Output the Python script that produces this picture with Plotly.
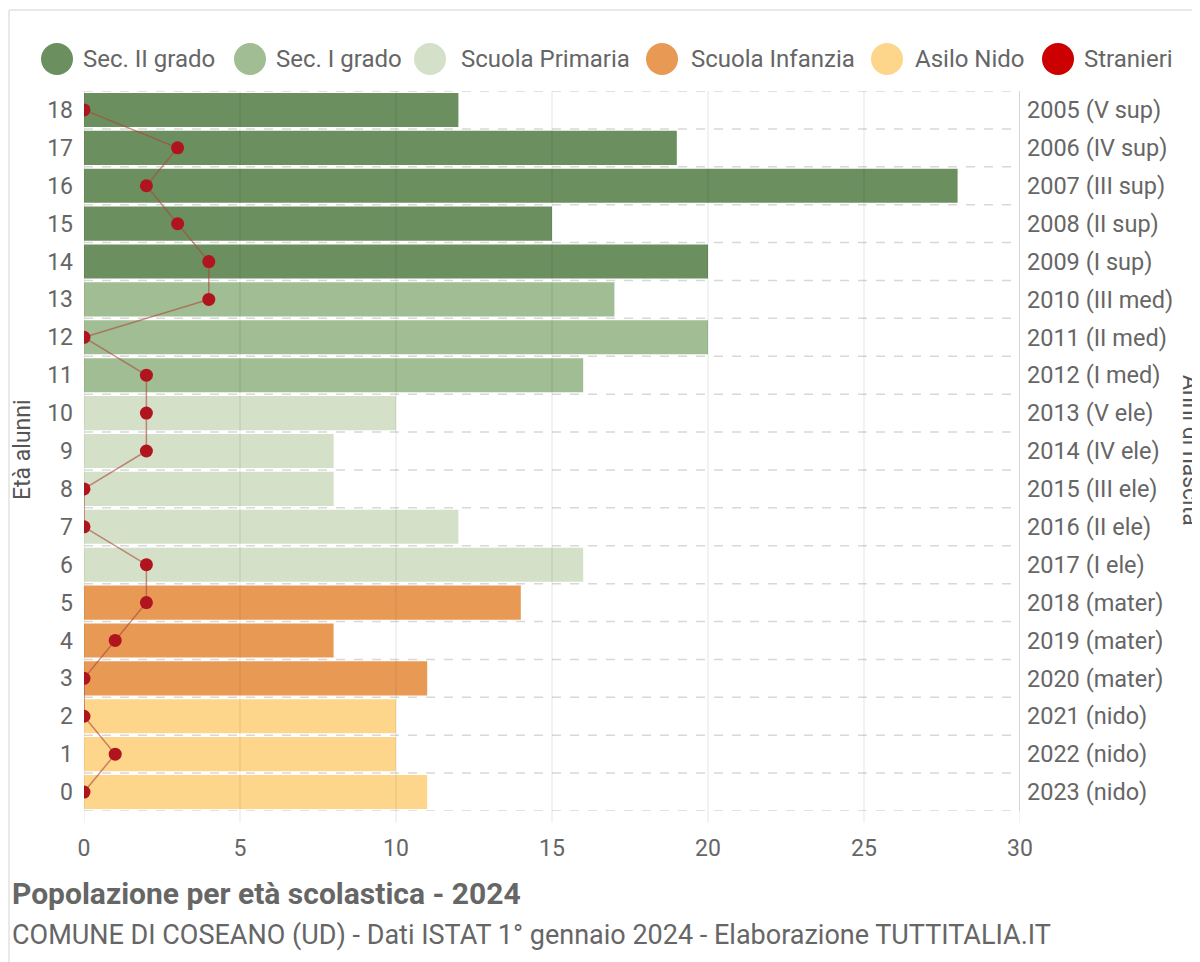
import plotly.graph_objects as go

ages = list(range(0, 19))
alunni = [11, 10, 10, 11, 8, 14, 16, 12, 8, 8, 10, 16, 20, 17, 20, 15, 28, 19, 12]
stranieri = [0, 1, 0, 0, 1, 2, 2, 0, 0, 2, 2, 2, 0, 4, 4, 3, 2, 3, 0]
anni = ["2023 (nido)", "2022 (nido)", "2021 (nido)", "2020 (mater)", "2019 (mater)",
        "2018 (mater)", "2017 (I ele)", "2016 (II ele)", "2015 (III ele)", "2014 (IV ele)",
        "2013 (V ele)", "2012 (I med)", "2011 (II med)", "2010 (III med)", "2009 (I sup)",
        "2008 (II sup)", "2007 (III sup)", "2006 (IV sup)", "2005 (V sup)"]
groups = [
    ("Sec. II grado", "#6b8f5e", [14, 15, 16, 17, 18]),
    ("Sec. I grado", "#a0bd94", [11, 12, 13]),
    ("Scuola Primaria", "#d4e0c8", [6, 7, 8, 9, 10]),
    ("Scuola Infanzia", "#e89a55", [3, 4, 5]),
    ("Asilo Nido", "#fdd68b", [0, 1, 2]),
]
legend_items = [(g[0], g[1]) for g in groups] + [("Stranieri", "#cc0000")]
xticks = [0, 5, 10, 15, 20, 25, 30]

FONT = "Roboto, Arial"
GRAY = "#666666"

# page offset (body margin) and plot area in page pixels
OFF = 8
PL, PR, PT, PB = 84, 1020, 91, 811
L, R, T, B = PL - OFF, PR - OFF, PT - OFF, PB - OFF

def px(x):  # page x -> paper
    return (x - PL) / (PR - PL)
def py(y):  # page y -> paper
    return (PB - y) / (PB - PT)

fig = go.Figure()
for name, color, members in groups:
    fig.add_trace(go.Bar(
        y=members, x=[alunni[a] for a in members], orientation="h",
        marker=dict(color=color, line=dict(width=0)), width=0.9,
        name=name, showlegend=False))

fig.add_trace(go.Scatter(
    x=stranieri, y=ages, mode="lines+markers", name="Stranieri", showlegend=False,
    line=dict(color="rgba(170,70,60,0.6)", width=1.5),
    marker=dict(color="#b0141e", size=13)))

# invisible trace to anchor right axis
fig.add_trace(go.Scatter(x=[0], y=[0], yaxis="y2", mode="markers",
                         marker=dict(opacity=0), showlegend=False, hoverinfo="skip"))

shapes = []
for k in range(0, 20):
    shapes.append(dict(type="line", xref="x", yref="y", x0=0, x1=30,
                       y0=k - 0.5, y1=k - 0.5, layer="below",
                       line=dict(color="#d8d8d8", width=1.5, dash="dash")))
for v in xticks:
    shapes.append(dict(type="line", xref="x", yref="paper", x0=v, x1=v,
                       y0=-0.016, y1=1, layer="above",
                       line=dict(color="rgba(0,0,0,0.10)", width=1)))
shapes.append(dict(type="line", xref="x", yref="paper", x0=30, x1=30, y0=0, y1=1,
                   layer="above", line=dict(color="#cccccc", width=1.5)))
# outer frame
shapes.append(dict(type="line", xref="paper", yref="paper", x0=px(9), x1=px(9),
                   y0=py(975), y1=py(10), line=dict(color="#e2e2e2", width=1.5)))
shapes.append(dict(type="line", xref="paper", yref="paper", x0=px(9), x1=px(1215),
                   y0=py(10), y1=py(10), line=dict(color="#e2e2e2", width=1.5)))

annotations = []
# manual legend with large circles
legend_circle_x = [57, 250, 430, 662, 887, 1058]
legend_text_x = [81, 274, 459, 689, 913, 1082]
for (name, color), cx, tx in zip(legend_items, legend_circle_x, legend_text_x):
    shapes.append(dict(type="circle", xref="paper", yref="paper",
                       xsizemode="pixel", ysizemode="pixel",
                       xanchor=px(cx), yanchor=py(59),
                       x0=-16, x1=16, y0=-16, y1=16,
                       fillcolor=color, line=dict(width=0)))
    annotations.append(dict(text=name, xref="paper", yref="paper", x=px(tx), y=py(59),
                            xanchor="left", yanchor="middle", showarrow=False,
                            font=dict(family=FONT, size=24, color=GRAY)))

annotations += [
    dict(text="Età alunni", xref="paper", yref="paper", x=px(22), y=py(450),
         xanchor="center", yanchor="middle", textangle=-90, showarrow=False,
         font=dict(family=FONT, size=23, color="#555555")),
    dict(text="Anni di nascita", xref="paper", yref="paper", x=px(1191), y=py(450),
         xanchor="center", yanchor="middle", textangle=90, showarrow=False,
         font=dict(family=FONT, size=23, color="#555555")),
    dict(text="<b>Popolazione per età scolastica - 2024</b>", xref="paper", yref="paper",
         x=px(10), y=py(893), xanchor="left", yanchor="middle", showarrow=False,
         font=dict(family=FONT, size=30, color="#666666")),
    dict(text="COMUNE DI COSEANO (UD) - Dati ISTAT 1° gennaio 2024 - Elaborazione TUTTITALIA.IT",
         xref="paper", yref="paper", x=px(10), y=py(935), xanchor="left",
         yanchor="middle", showarrow=False,
         font=dict(family=FONT, size=27, color="#666666")),
]

fig.update_layout(
    width=1200, height=962,
    margin=dict(l=L, r=1200 - R, t=T, b=962 - B, autoexpand=False),
    plot_bgcolor="white", paper_bgcolor="white",
    font=dict(family=FONT, size=23, color=GRAY),
    barmode="overlay",
    showlegend=False,
    xaxis=dict(range=[0, 30], tickvals=xticks, showgrid=False, zeroline=False,
               showline=False, ticks="", tickfont=dict(size=23, color=GRAY),
               ticklabelstandoff=21, automargin=False, fixedrange=True),
    yaxis=dict(range=[-0.5, 18.5], tickvals=ages, ticktext=[str(a) for a in ages],
               showgrid=False, zeroline=False, showline=False, ticks="",
               ticklabelstandoff=10, tickfont=dict(size=23, color=GRAY),
               automargin=False),
    yaxis2=dict(range=[-0.5, 18.5], overlaying="y", side="right", tickvals=ages,
                ticktext=anni, showgrid=False, zeroline=False, showline=False,
                ticks="", ticklabelstandoff=6, tickfont=dict(size=23.5, color=GRAY),
                automargin=False),
    shapes=shapes,
    annotations=annotations,
)

fig.write_html("out.html")
